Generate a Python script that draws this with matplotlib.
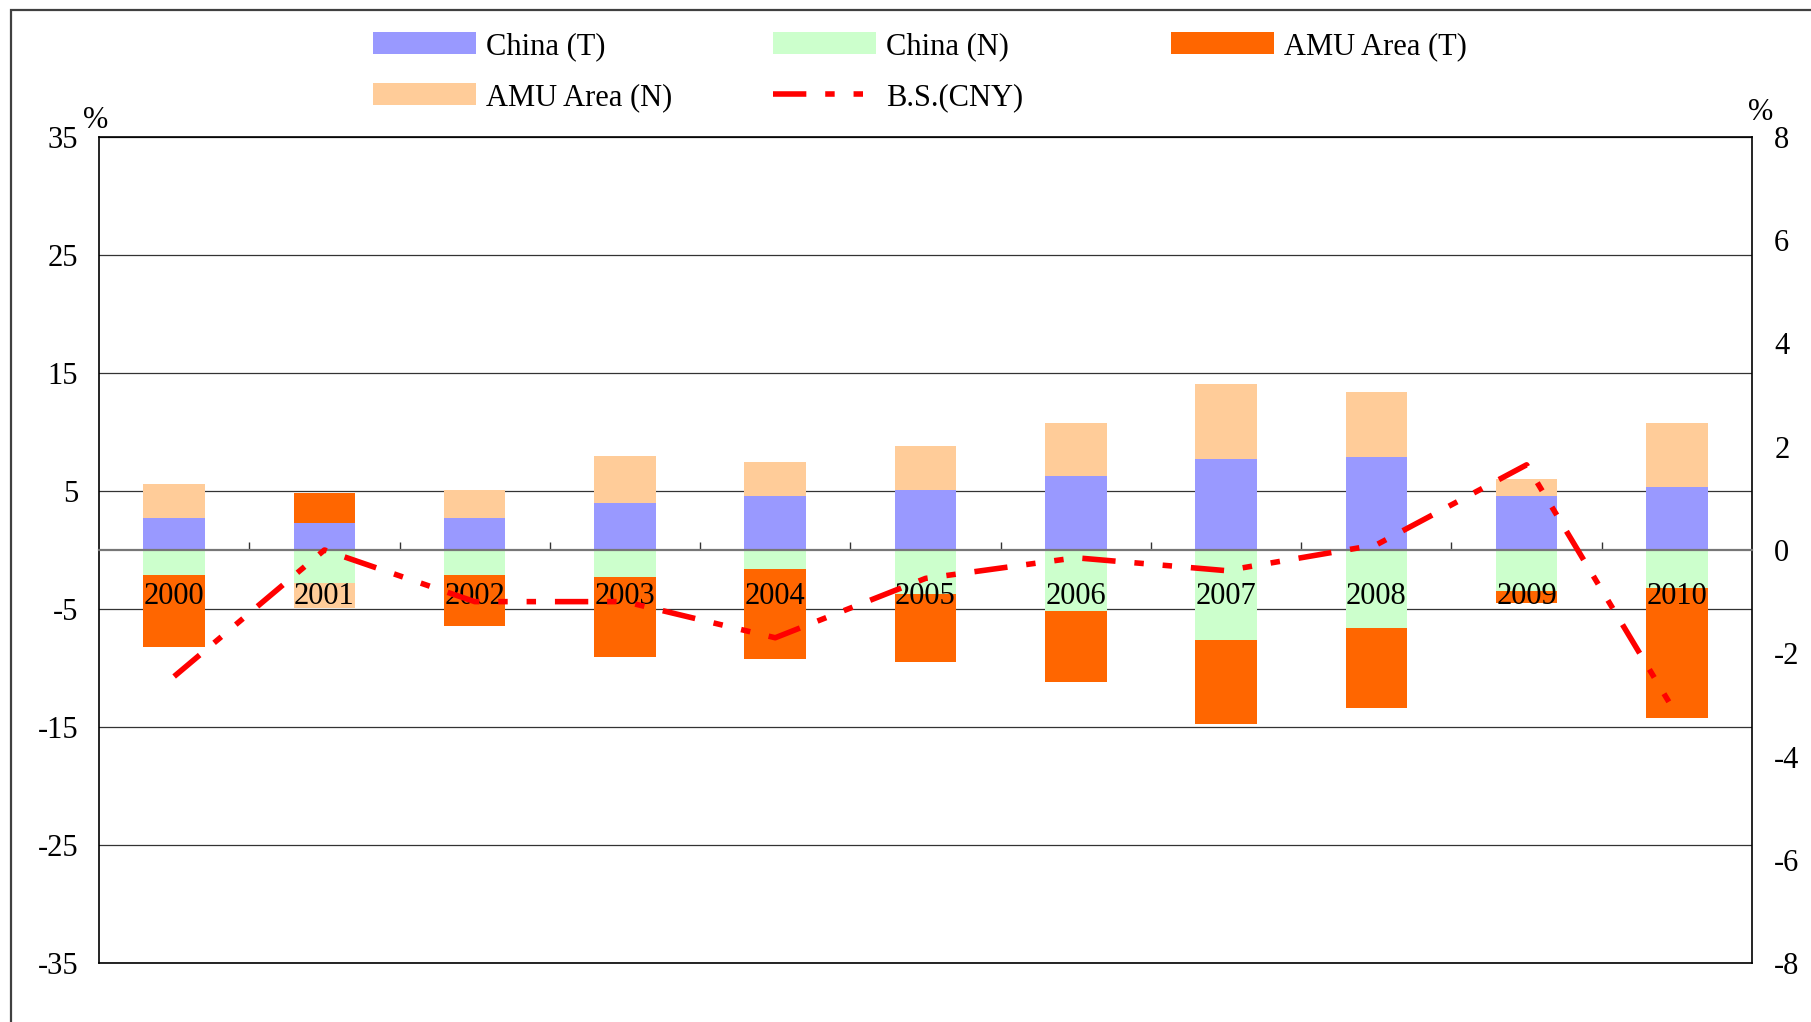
import numpy as np
import matplotlib
matplotlib.use("Agg")
import matplotlib.pyplot as plt
from matplotlib.patches import Patch, Rectangle
from matplotlib.lines import Line2D

# ---- data -------------------------------------------------------------
years = ["2000", "2001", "2002", "2003", "2004", "2005",
         "2006", "2007", "2008", "2009", "2010"]
china_t = [2.75, 2.25, 2.75, 3.95, 4.6, 5.1, 6.3, 7.7, 7.9, 4.6, 5.35]
china_n = [-2.1, -2.8, -2.1, -2.3, -1.6, -3.7, -5.2, -7.6, -6.6, -3.5, -3.25]
amu_t = [-6.1, 2.6, -4.35, -6.8, -7.6, -5.8, -6.0, -7.15, -6.75, -0.95, -11.0]
amu_n = [2.85, -2.15, 2.35, 4.05, 2.85, 3.75, 4.5, 6.4, 5.5, 1.45, 5.45]
bs_cny = [-2.45, 0.0, -1.0, -1.0, -1.7, -0.55, -0.15, -0.4, 0.1, 1.65, -3.2]

series_names = ["China (T)", "China (N)", "AMU Area (T)", "AMU Area (N)"]
series_vals = [china_t, china_n, amu_t, amu_n]
series_cols = ["#9999FF", "#CCFFCC", "#FF6600", "#FFCC99"]
line_name = "B.S.(CNY)"
left_ticks = [-35, -25, -15, -5, 5, 15, 25, 35]
right_ticks = [-8, -6, -4, -2, 0, 2, 4, 6, 8]

# ---- style ------------------------------------------------------------
plt.rcParams["font.family"] = ["Liberation Serif", "DejaVu Serif"]
FS = 22
W, H = 1811, 1022
fig = plt.figure(figsize=(W / 100, H / 100), dpi=100)

def fx(px):
    return px / W

def fy(py):
    return 1 - py / H

# chart-area frame
fig.patches.append(Rectangle((fx(11), -0.2), 1.5, fy(10) + 0.2,
                             transform=fig.transFigure, fill=False,
                             edgecolor="#404040", linewidth=1.6))

ax = fig.add_axes([fx(99), fy(963), fx(1752) - fx(99), fy(137) - fy(963)])
x = np.arange(len(years))

# stacked bars: positive and negative parts stack separately
pos_base = np.zeros(len(years))
neg_base = np.zeros(len(years))
handles = {}
for name, vals, col in zip(series_names, series_vals, series_cols):
    v = np.asarray(vals, dtype=float)
    bottom = np.where(v >= 0, pos_base, neg_base)
    ax.bar(x, v, width=0.41, bottom=bottom, color=col, linewidth=0, zorder=2)
    pos_base = pos_base + np.where(v >= 0, v, 0)
    neg_base = neg_base + np.where(v < 0, v, 0)
    handles[name] = Patch(facecolor=col, edgecolor="none")

ax.set_xlim(-0.5, len(years) - 0.5)
ax.set_ylim(-35, 35)
ax.set_yticks(left_ticks)
ax.set_yticklabels([str(t) for t in left_ticks], fontsize=FS)
ax.tick_params(axis="y", length=0, pad=15)
ax.yaxis.grid(True, color="#333333", linewidth=0.9)
ax.set_axisbelow(True)

# category axis sits at zero with inward ticks between categories
ax.spines["bottom"].set_position(("data", 0))
ax.spines["bottom"].set_color("#777777")
ax.spines["bottom"].set_linewidth(1.6)
ax.spines["bottom"].set_zorder(3)
ax.set_xticks(x[:-1] + 0.5)
ax.set_xticklabels([])
ax.tick_params(axis="x", direction="in", length=6, width=1, color="#333333")
for s in ["top", "left", "right"]:
    ax.spines[s].set_color("black")
    ax.spines[s].set_linewidth(1.2)
# lower edge of the plot frame
ax.axhline(-35, color="black", linewidth=1.2, clip_on=False, zorder=3)

for xi, yr in zip(x, years):
    ax.text(xi, -3.95, yr, ha="center", va="center", fontsize=FS, zorder=4)

# secondary axis with the line
ax2 = ax.twinx()
ax2.set_ylim(-8, 8)
ax2.set_yticks(right_ticks)
ax2.set_yticklabels([str(t) for t in right_ticks], fontsize=FS)
ax2.tick_params(axis="y", length=0, pad=16)
for s in ax2.spines.values():
    s.set_visible(False)
dash = (0, (6, 3.4, 1.7, 3.4, 1.7, 3.4))
ax2.plot(x, bs_cny, color="#FF0000", linewidth=4.0, linestyle=dash,
         dash_capstyle="butt", solid_capstyle="butt")
handles[line_name] = Line2D([], [], color="#FF0000", linewidth=4.0,
                            linestyle=dash, dash_capstyle="butt")

# unit marks
fig.text(fx(83), fy(121), "%", fontsize=FS, ha="left", va="center")
fig.text(fx(1748), fy(113), "%", fontsize=FS, ha="left", va="center")

# legend laid out in three fixed columns
columns = [
    (373, ["China (T)", "AMU Area (N)"]),
    (773, ["China (N)", line_name]),
    (1171, ["AMU Area (T)"]),
]
for xpx, names in columns:
    leg = fig.legend([handles[n] for n in names], names,
                     loc="upper left", bbox_to_anchor=(fx(xpx), fy(32)),
                     bbox_transform=fig.transFigure, frameon=False,
                     fontsize=FS, handlelength=3.37, handleheight=0.72,
                     handletextpad=0.33, labelspacing=0.72,
                     borderpad=0, borderaxespad=0)

fig.savefig("out.png", dpi=100)
